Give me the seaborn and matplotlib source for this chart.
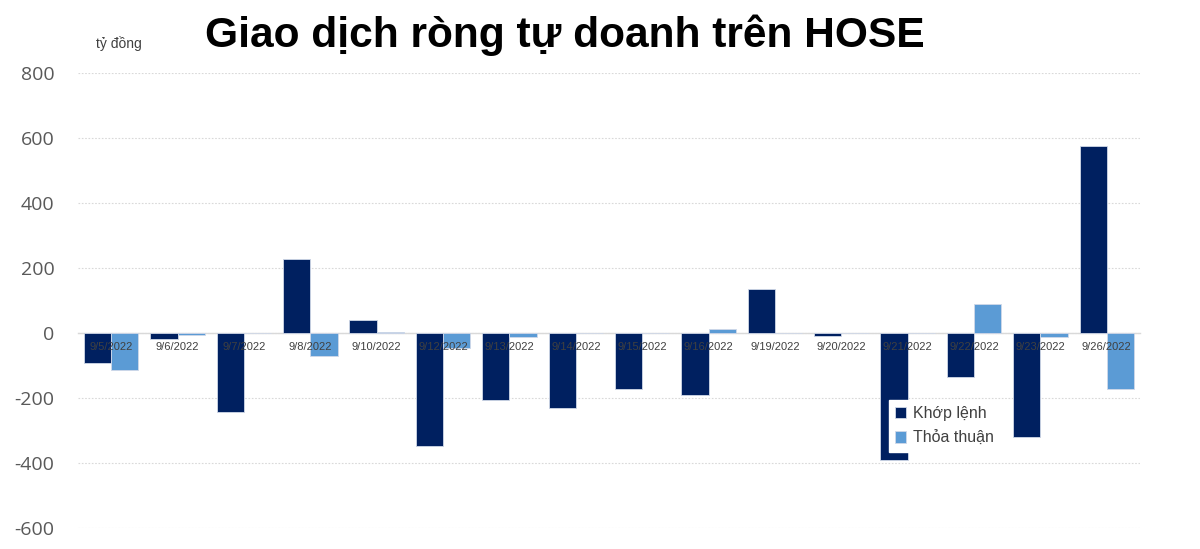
import matplotlib
matplotlib.use("Agg")
import matplotlib.pyplot as plt
import seaborn as sns
import pandas as pd

dates = ["9/5/2022", "9/6/2022", "9/7/2022", "9/8/2022", "9/10/2022", "9/12/2022",
         "9/13/2022", "9/14/2022", "9/15/2022", "9/16/2022", "9/19/2022", "9/20/2022",
         "9/21/2022", "9/22/2022", "9/23/2022", "9/26/2022"]
khop_lenh = [-92, -18, -243, 228, 40, -347, -206, -230, -171, -189, 136, -9, -390, -136, -319, 575]
thoa_thuan = [-113, -5, 0, -70, 4, -46, -11, 0, 0, 13, 0, 0, 0, 90, -13, -173]
series_names = ["Khớp lệnh", "Thỏa thuận"]
colors = ["#002060", "#5B9BD5"]

df = pd.DataFrame({
    "date": dates * 2,
    "value": khop_lenh + thoa_thuan,
    "series": [series_names[0]] * len(dates) + [series_names[1]] * len(dates),
})

sns.set_theme(style="white")
plt.rcParams["font.family"] = ["Liberation Sans", "DejaVu Sans"]
plt.rcParams["axes.unicode_minus"] = False

fig = plt.figure(figsize=(12, 5.49), dpi=100)
ax = fig.add_axes([0.065, 0.038, 0.885, 0.829])

sns.barplot(data=df, x="date", y="value", hue="series", palette=colors,
            order=dates, hue_order=series_names, width=0.82, ax=ax,
            edgecolor="#d0d8e8", linewidth=0.6, saturation=1)

ax.set_xlim(-0.5, len(dates) - 0.5)
ax.set_ylim(-600, 800)
ax.set_yticks(range(-600, 801, 200))
ax.tick_params(axis="y", labelsize=14, labelcolor="#595959", length=0, pad=17)
for lbl in ax.get_yticklabels():
    lbl.set_family(["Open Sans", "DejaVu Sans"])

ax.yaxis.grid(True, linestyle=(0, (1.5, 1.5)), color="#d9d9d9", linewidth=0.8)
ax.set_axisbelow(True)

for s in ["top", "right", "left"]:
    ax.spines[s].set_visible(False)
ax.spines["bottom"].set_position(("data", 0))
ax.spines["bottom"].set_color("#d9d9d9")
ax.spines["bottom"].set_linewidth(1)
ax.spines["bottom"].set_zorder(0.6)
ax.tick_params(axis="x", labelsize=8, labelcolor="#404040", length=0, pad=6.5)
ax.xaxis.set_zorder(5)
ax.set_xlabel("")
ax.set_ylabel("")

leg = ax.legend(loc="upper left", bbox_to_anchor=(0.756, 0.30), frameon=True,
                fancybox=False, edgecolor="white", facecolor="white", framealpha=1,
                fontsize=11.5, handlelength=0.7, handleheight=0.7, handletextpad=0.4,
                labelspacing=0.6, borderpad=0.4)
leg.set_zorder(6)
for t in leg.get_texts():
    t.set_color("#404040")

fig.text(0.471, 0.936, "Giao dịch ròng tự doanh trên HOSE", ha="center", va="center",
         fontsize=30.6, fontweight="bold", color="#000000")
fig.text(0.099, 0.921, "tỷ đồng", ha="center", va="center", fontsize=10, color="#404040")

fig.savefig("out.png", dpi=100, facecolor="white")
